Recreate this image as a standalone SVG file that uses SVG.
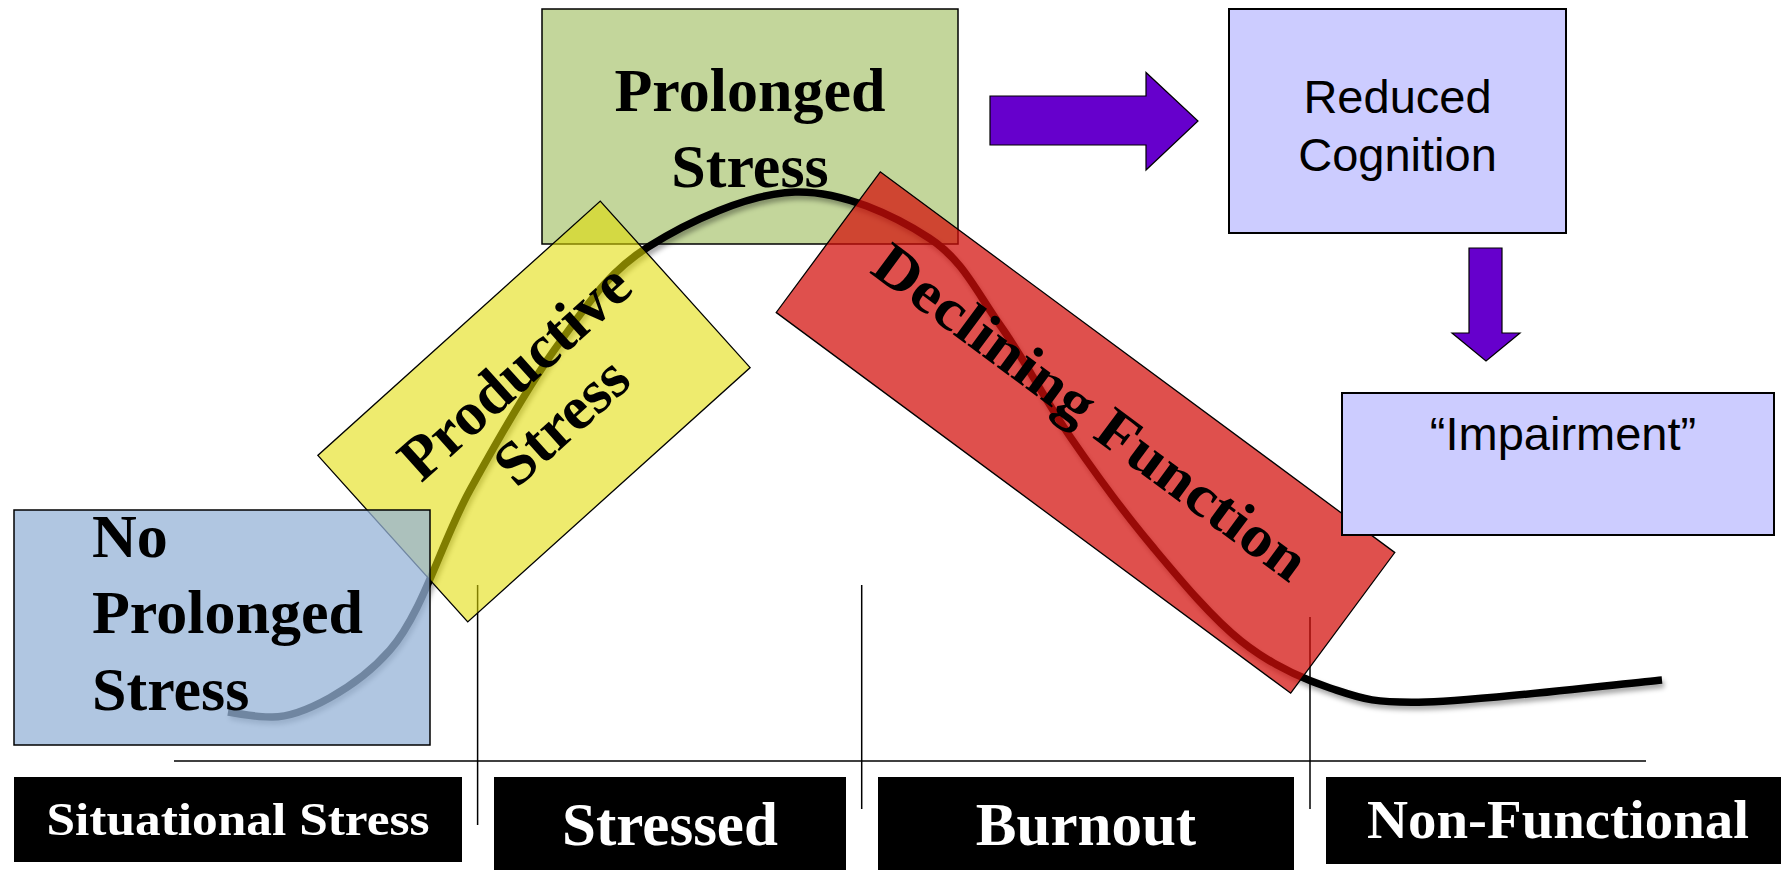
<svg xmlns="http://www.w3.org/2000/svg" width="1781" height="870" viewBox="0 0 1781 870">
  <style>
    .serif { font-family: "Liberation Serif", "Times New Roman", serif; font-weight: bold; fill: #000; }
    .sans { font-family: "Liberation Sans", Arial, sans-serif; fill: #000; font-size: 47px; }
    .lbl { font-family: "Liberation Serif", "Times New Roman", serif; font-weight: bold; fill: #fff; }
    .guide { stroke: #000; stroke-width: 1.5; fill: none; }
    .box { stroke: #000; stroke-width: 1.5; }
    .lav { fill: #CCCCFF; stroke: #000; stroke-width: 2; }
    .arrow { fill: #6600CC; stroke: #000; stroke-width: 1.2; }
  </style>
  <defs>
    <filter id="shadow" x="-5%" y="-10%" width="110%" height="130%">
      <feDropShadow dx="2" dy="4" stdDeviation="2.5" flood-color="#000" flood-opacity="0.35"/>
    </filter>
  </defs>

  <rect width="1781" height="870" fill="#fff"/>

  <g id="prolonged-stress">
    <rect class="box" x="542" y="9" width="416" height="235" fill="#C3D69B"/>
    <text class="serif" font-size="62" x="750" y="111" text-anchor="middle">Prolonged</text>
    <text class="serif" font-size="62" x="750" y="187" text-anchor="middle">Stress</text>
  </g>

  <g id="connectors">
    <line class="guide" x1="174" y1="761" x2="1646" y2="761" stroke-width="2"/>
    <line class="guide" x1="477.6" y1="585" x2="477.6" y2="825"/>
    <line class="guide" x1="861.7" y1="585" x2="861.7" y2="809"/>
    <line class="guide" x1="1310" y1="617" x2="1310" y2="809"/>
    <path id="curve" d="M228,712 C240,714 255,717 272,717 C302,717 357,687.8 390,650 C423,612.2 441.7,541.3 470,490 C498.3,438.7 530.3,382.5 560,342 C589.7,301.5 608.8,272 648,247 C687.2,222 748.2,193.5 795,192 C841.8,190.5 894.8,215.8 929,238 C963.2,260.2 976.3,291.7 1000,325 C1023.7,358.3 1045.7,401.2 1071,438 C1096.3,474.8 1123.7,512.2 1152,546 C1180.3,579.8 1211.3,617.3 1241,641 C1270.7,664.7 1299.2,677.8 1330,688 C1360.8,698.2 1370.7,703.3 1426,702 C1481.3,700.7 1622.7,683.7 1662,680" fill="none" stroke="#000" stroke-width="7.5" filter="url(#shadow)"/>
    <polygon class="arrow" points="990,96 1146,96 1146,72.5 1198,121 1146,170 1146,145 990,145"/>
    <polygon class="arrow" points="1469,248 1502,248 1502,333 1520,333 1486,361 1452,333 1469,333"/>
  </g>

  <g id="productive-stress" transform="translate(534 411.5) rotate(-42)">
    <rect x="-190" y="-112" width="380" height="224" fill="#E1DC00" fill-opacity="0.57" stroke="#000" stroke-width="1.3"/>
    <text class="serif" font-size="62" x="12" y="-22" text-anchor="middle">Productive</text>
    <text class="serif" font-size="62" x="14" y="46" text-anchor="middle">Stress</text>
  </g>

  <g id="no-prolonged-stress">
    <rect x="14" y="510" width="416" height="235" fill="#95B3D7" fill-opacity="0.75" stroke="#000" stroke-width="1.5"/>
    <text class="serif" font-size="62" x="92" y="557">No</text>
    <text class="serif" font-size="62" x="92" y="633">Prolonged</text>
    <text class="serif" font-size="62" x="92" y="710">Stress</text>
  </g>

  <g id="declining-function" transform="translate(1085.5 432.5) rotate(36.5)">
    <rect x="-320" y="-87.5" width="640" height="175" fill="#D30E0A" fill-opacity="0.725" stroke="#000" stroke-width="1.3"/>
    <text class="serif" font-size="59" x="-8" y="0" text-anchor="middle" textLength="524" lengthAdjust="spacingAndGlyphs">Declining Function</text>
  </g>

  <g id="reduced-cognition">
    <rect class="lav" x="1229" y="9" width="337" height="224"/>
    <text class="sans" x="1397.5" y="113" text-anchor="middle">Reduced</text>
    <text class="sans" x="1397.5" y="171" text-anchor="middle">Cognition</text>
  </g>

  <g id="impairment">
    <rect class="lav" x="1342" y="393" width="432" height="142"/>
    <text class="sans" x="1563" y="450" text-anchor="middle" font-size="48">“Impairment”</text>
  </g>

  <g id="label-situational-stress">
    <rect x="14" y="777" width="448" height="85" fill="#000"/>
    <text class="lbl" font-size="46" x="238" y="835" text-anchor="middle" textLength="383" lengthAdjust="spacingAndGlyphs">Situational Stress</text>
  </g>
  <g id="label-stressed">
    <rect x="494" y="777" width="352" height="93" fill="#000"/>
    <text class="lbl" font-size="61" x="670" y="845" text-anchor="middle">Stressed</text>
  </g>
  <g id="label-burnout">
    <rect x="878" y="777" width="416" height="93" fill="#000"/>
    <text class="lbl" font-size="61" x="1086" y="845" text-anchor="middle">Burnout</text>
  </g>
  <g id="label-non-functional">
    <rect x="1326" y="777" width="455" height="87" fill="#000"/>
    <text class="lbl" font-size="55" x="1558" y="838" text-anchor="middle" textLength="382" lengthAdjust="spacingAndGlyphs">Non-Functional</text>
  </g>
</svg>
